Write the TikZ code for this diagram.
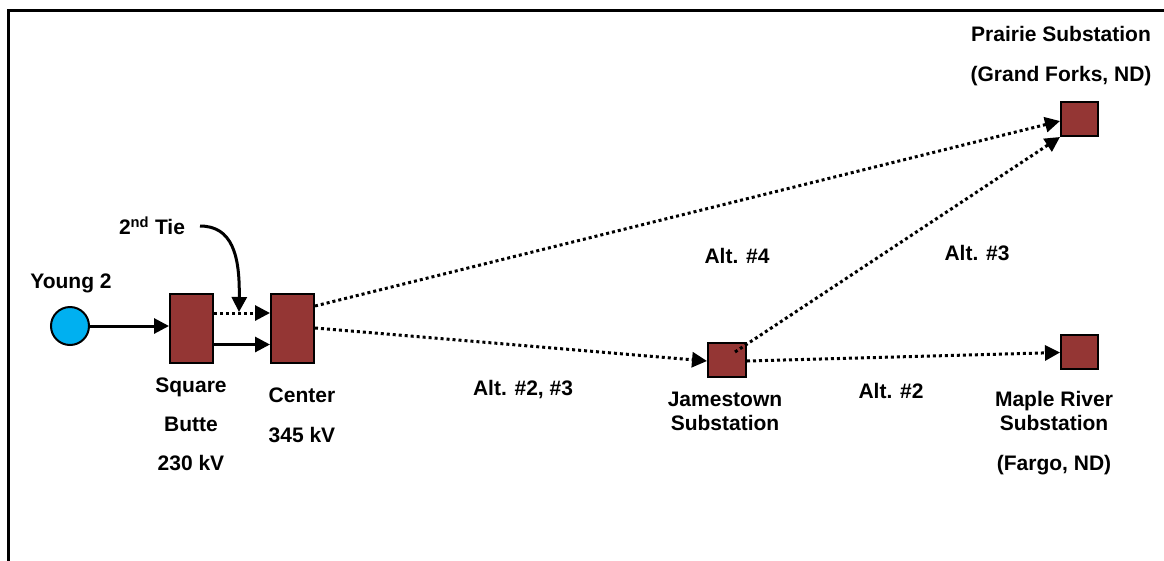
\documentclass[tikz,border=0pt]{standalone}
\usepackage{fontspec}
\setmainfont{Liberation Sans}
\usetikzlibrary{arrows.meta}
\definecolor{subred}{HTML}{943634}
\definecolor{gencyan}{HTML}{00B0F0}
\begin{document}
\begin{tikzpicture}[x=1pt,y=-1pt,
  font=\fontsize{21}{24}\selectfont\bfseries,
  sub/.style={draw=black,line width=2pt,fill=subred,inner sep=0pt},
  lbl/.style={inner sep=0pt,align=center},
  solidcon/.style={line width=3pt,-{Triangle[length=15pt,width=15pt]}},
  dotcon/.style={line width=3pt,dash pattern=on 3pt off 3pt,-{Triangle[length=15pt,width=15pt]}}]
\useasboundingbox (0,0) rectangle (1164,560);
\draw[line width=3pt] (8.5,562) -- (8.5,10.5) -- (1166,10.5);

% nodes
\node[circle,draw=black,line width=2pt,fill=gencyan,minimum size=38pt,inner sep=0pt] (young) at (70,326) {};
\node[sub,minimum width=43pt,minimum height=69pt] (sb) at (191.5,328.5) {};
\node[sub,minimum width=43pt,minimum height=69pt] (ctr) at (292.5,328.5) {};
\node[sub,minimum width=38pt,minimum height=34pt] (jam) at (727,360) {};
\node[sub,minimum width=37pt,minimum height=34pt] (maple) at (1079.5,352) {};
\node[sub,minimum width=37pt,minimum height=34pt] (prairie) at (1079.5,119) {};

% labels
\node[lbl] (youngl) at (71,283) {Young 2};
\node[lbl,font=\fontsize{21}{39}\selectfont\bfseries] (sbl) at (191,424) {Square\\Butte\\230 kV};
\node[lbl,font=\fontsize{21}{40}\selectfont\bfseries] (ctrl) at (302,415) {Center\\345 kV};
\node[lbl] (jaml) at (725,411) {Jamestown\\Substation};
\node[lbl] (maplel) at (1054,433) {Maple River\\Substation\\[16pt](Fargo, ND)};
\node[lbl,font=\fontsize{21}{40}\selectfont\bfseries] (prairiel) at (1061,56) {Prairie Substation\\(Grand Forks, ND)};
\node[lbl] (alt23) at (523,390) {Alt. \#2, \#3};
\node[lbl] (alt2) at (891,391) {Alt. \#2};
\node[lbl] (alt4) at (737,256) {Alt. \#4};
\node[lbl] (alt3) at (977,253) {Alt. \#3};
\node[lbl] (tie) at (152,226) {2\textsuperscript{nd} Tie};
\coordinate (tiestart) at (200,226);

% connectors
\draw[solidcon] (young.east) -- (young.east -| sb.west);
\draw[dotcon] ([yshift=15.5pt]sb.east) -- ([yshift=15.5pt]ctr.west);
\draw[solidcon] ([yshift=-16pt]sb.east) -- ([yshift=-16pt]ctr.west);
\draw[dotcon] ([yshift=22.5pt]ctr.east) -- ([yshift=-2pt]prairie.west);
\draw[dotcon] ([yshift=0.5pt]ctr.east) -- ([yshift=-1pt]jam.west);
\draw[dotcon] ([xshift=8pt,yshift=8pt]jam.center) -- (prairie.south west);
\draw[dotcon] ([yshift=-1pt]jam.east) -- ([yshift=-0.5pt]maple.west);
\draw[solidcon] (tiestart) .. controls (232,226) and (240,255) .. (239,312);
\end{tikzpicture}
\end{document}
